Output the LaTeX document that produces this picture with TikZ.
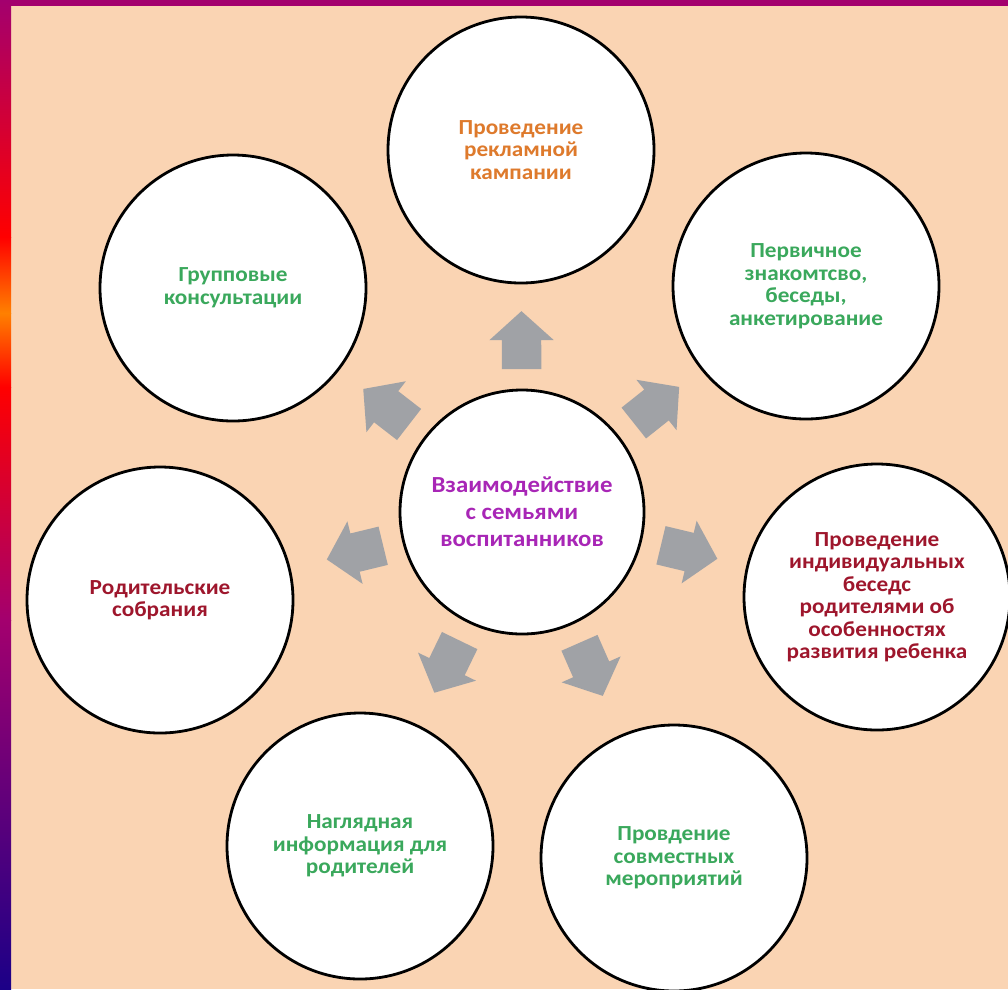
\documentclass[tikz,border=0pt]{standalone}
\usepackage{fontspec}
\setmainfont{Carlito}[FakeStretch=1.08]
\usetikzlibrary{shapes.arrows, calc}
\definecolor{peach}{RGB}{250,212,179}
\definecolor{barmagenta}{RGB}{163,0,110}
\definecolor{barred}{RGB}{255,0,0}
\definecolor{barorange}{RGB}{255,128,0}
\definecolor{barblue}{RGB}{28,0,135}
\definecolor{arrowgray}{RGB}{160,162,166}
\definecolor{txtorange}{RGB}{222,122,44}
\definecolor{txtgreen}{RGB}{58,168,92}
\definecolor{txtred}{RGB}{158,22,44}
\definecolor{txtpurple}{RGB}{168,38,182}
\newcommand{\outerfont}{\bfseries\fontsize{21.5}{22.5}\selectfont}

\begin{document}
\begin{tikzpicture}[
  x=1pt, y=-1pt,
  circ/.style={
    circle,
    draw=black,
    line width=2.8pt,
    fill=white,
    inner sep=0pt,
    minimum size=266pt,
    align=center,
    font=\outerfont
  },
  hub/.style={circ, minimum size=244pt, font=\bfseries\fontsize{23}{27}\selectfont, text=txtpurple},
  blockarrow/.style={
    single arrow,
    fill=arrowgray,
    draw=none,
    inner xsep=0pt,
    inner ysep=19.5pt,
    text height=0pt,
    text depth=0pt,
    minimum height=58pt,
    single arrow head extend=12.5pt,
    single arrow tip angle=96
  }
]
\useasboundingbox (0,0) rectangle (1008,989);
\fill[peach] (0,0) rectangle (1008,989);
\fill[barmagenta] (0,0) rectangle (1008,6);
\shade[top color=barmagenta, bottom color=barred] (0,0) rectangle (11,237);
\shade[top color=barred, bottom color=barorange] (0,237) rectangle (11,313);
\shade[top color=barorange, bottom color=barred] (0,313) rectangle (11,387);
\shade[top color=barred, bottom color=barmagenta] (0,387) rectangle (11,620);
\shade[top color=barmagenta, bottom color=barblue] (0,620) rectangle (11,989);

\node[hub] (vzaim) at (522,512) {Взаимодействие\\с семьями\\воспитанников};
\node[circ, text=txtorange] (reklama) at (521,150) {Проведение\\рекламной\\кампании};
\node[circ, text=txtgreen] (znakom) at (806,286) {Первичное\\знакомтсво,\\беседы,\\анкетирование};
\node[circ, text=txtred] (besedy) at (877,597) {Проведение\\индивидуальных\\беседс\\родителями об\\особенностях\\развития ребенка};
\node[circ, text=txtgreen] (meropr) at (674,858) {Провдение\\совместных\\мероприятий};
\node[circ, text=txtgreen] (nagl) at (360,846) {Наглядная\\информация для\\родителей};
\node[circ, text=txtred] (sobr) at (160,600) {Родительские\\собрания};
\node[circ, text=txtgreen] (gruppa) at (233,288) {Групповые\\консультации};

\foreach \t in {reklama,znakom,besedy,meropr,nagl,sobr,gruppa}
  \path (vzaim.center) -- ($(vzaim.center)!326pt!(\t.center)$)
    node[blockarrow, midway, sloped, allow upside down] {};
\end{tikzpicture}
\end{document}
